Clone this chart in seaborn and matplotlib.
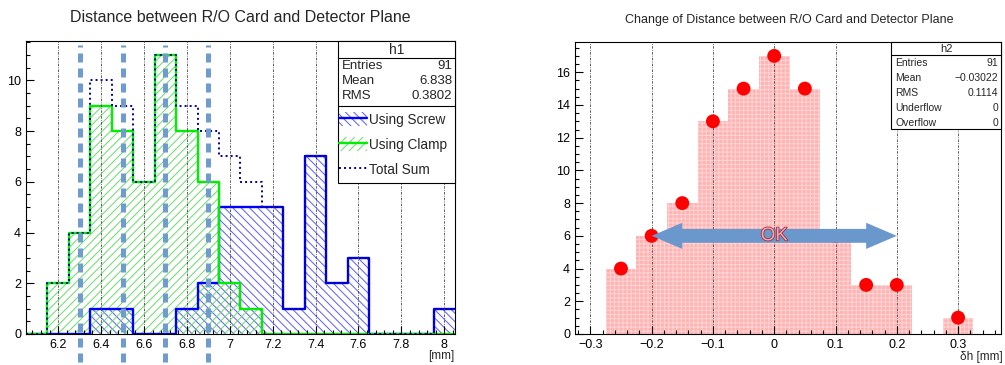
import numpy as np
import pandas as pd
import matplotlib
matplotlib.use("Agg")
import matplotlib.pyplot as plt
import seaborn as sns
import matplotlib.patheffects as pe
from matplotlib.patches import Rectangle, Patch, FancyArrow
from matplotlib.lines import Line2D
from matplotlib.ticker import MultipleLocator, FuncFormatter

# ---- data: h1 (0.1 mm bins, 6.05 .. 8.05) ----
h1_centers = [6.1, 6.2, 6.3, 6.4, 6.5, 6.6, 6.7, 6.8, 6.9, 7.0,
              7.1, 7.2, 7.3, 7.4, 7.5, 7.6, 7.7, 7.8, 7.9, 8.0]
screw_counts = [0, 0, 0, 1, 1, 0, 0, 1, 2, 5, 5, 5, 1, 7, 2, 3, 0, 0, 0, 1]
clamp_counts = [0, 2, 4, 9, 8, 6, 11, 8, 6, 2, 1, 0, 0, 0, 0, 0, 0, 0, 0, 0]
limit_marks = [6.3, 6.5, 6.7, 6.9]
h1_stats = [("Entries", "91"), ("Mean", "6.838"), ("RMS", "0.3802")]

# ---- data: h2 (0.05 mm bins, -0.325 .. 0.375) ----
h2_centers = [-0.30, -0.25, -0.20, -0.15, -0.10, -0.05, 0.0,
              0.05, 0.10, 0.15, 0.20, 0.25, 0.30, 0.35]
h2_counts = [0, 4, 6, 8, 13, 15, 17, 15, 6, 3, 3, 0, 1, 0]
ok_range = [-0.2, 0.2]
ok_level = 6
h2_stats = [("Entries", "91"), ("Mean", "\u22120.03022"), ("RMS", "0.1114"),
            ("Underflow", "0"), ("Overflow", "0")]

W, H = 1005, 365
FONT = ["Liberation Sans", "DejaVu Sans"]


def fx(px):
    return px / W


def fy(py):
    return 1 - py / H


def edges_of(centers, width):
    c = np.asarray(centers)
    return [float(v) for v in np.append(c - width / 2, c[-1] + width / 2)]


def fmt_tick(v, _):
    if abs(v) < 1e-9:
        return "0"
    return f"{v:g}".replace("-", "\u2212")


def root_axes(ax, xmaj, xmin, ymaj, ymin):
    ax.xaxis.set_major_locator(MultipleLocator(xmaj))
    ax.xaxis.set_minor_locator(MultipleLocator(xmin))
    ax.yaxis.set_major_locator(MultipleLocator(ymaj))
    ax.yaxis.set_minor_locator(MultipleLocator(ymin))
    ax.xaxis.set_major_formatter(FuncFormatter(fmt_tick))
    ax.tick_params(which="both", direction="in", top=False, right=False,
                   labelsize=9, width=0.8, colors="black")
    ax.tick_params(which="major", length=6)
    ax.tick_params(which="minor", length=3)
    ax.set_xlabel("")
    ax.set_ylabel("")
    for sp in ax.spines.values():
        sp.set_visible(True)
        sp.set_linewidth(0.8)
        sp.set_color("black")
    ax.set_axisbelow(False)
    ax.grid(axis="x", which="major", color="#444444", linestyle=(0, (3, 1.5, 1, 1.5)),
            linewidth=0.6)
    ax.grid(axis="y", visible=False)


def stats_box(x0, x1, top, head_bottom, rows, row_y, name, size, bottom):
    fig.patches.append(Rectangle((fx(x0), fy(bottom)), fx(x1) - fx(x0), fy(top) - fy(bottom),
                                 transform=fig.transFigure, facecolor="white",
                                 edgecolor="black", linewidth=0.8, zorder=10))
    fig.add_artist(Line2D([fx(x0), fx(x1)], [fy(head_bottom)] * 2, color="black",
                          linewidth=0.8, zorder=11))
    fig.text(fx((x0 + x1) / 2), fy((top + head_bottom) / 2), name, ha="center", va="center",
             fontsize=size + 0.5, zorder=12)
    for (lab, val), y in zip(rows, row_y):
        fig.text(fx(x0 + 4), fy(y), lab, ha="left", va="center", fontsize=size, zorder=12)
        fig.text(fx(x1 - 3), fy(y), val, ha="right", va="center", fontsize=size, zorder=12)


sns.set_style("ticks")
plt.rcParams["font.family"] = FONT
plt.rcParams["hatch.linewidth"] = 0.7

fig = plt.figure(figsize=(W / 100, H / 100), dpi=100)

# ================= left panel =================
ax1 = fig.add_axes([fx(26), fy(334), fx(455) - fx(26), fy(41) - fy(334)])
df1 = pd.DataFrame({"x": h1_centers, "screw": screw_counts, "clamp": clamp_counts})
df1["total"] = df1["screw"] + df1["clamp"]
e1 = edges_of(h1_centers, 0.1)

sns.histplot(data=df1, x="x", weights="screw", bins=e1, element="step", fill=True,
             color="#5a5aff", facecolor="none", hatch="\\\\\\\\", linewidth=0, ax=ax1)
sns.histplot(data=df1, x="x", weights="clamp", bins=e1, element="step", fill=True,
             color="#66dd66", facecolor="none", hatch="////", linewidth=0, ax=ax1)
sns.histplot(data=df1, x="x", weights="screw", bins=e1, element="step", fill=False,
             color="#0000ff", linewidth=1.7, ax=ax1)
sns.histplot(data=df1, x="x", weights="clamp", bins=e1, element="step", fill=False,
             color="#00ee00", linewidth=1.7, ax=ax1)
sns.histplot(data=df1, x="x", weights="total", bins=e1, element="step", fill=False,
             color="#000099", linewidth=1.4, linestyle=(0, (1, 1.6)), ax=ax1)

ax1.set_xlim(6.05, 8.05)
ax1.set_ylim(0, 11.55)
root_axes(ax1, 0.2, 0.04, 2, 0.5)

for xm in limit_marks:
    ax1.axvline(xm, ymin=-0.095, ymax=0.985, color="#6f9bcf", linewidth=3.6,
                dashes=(1.8, 1.2), clip_on=False, zorder=6)

fig.text(fx(240), fy(17), "Distance between R/O Card and Detector Plane",
         ha="center", va="center", fontsize=11.5)
fig.text(fx(454), fy(356), "[mm]", ha="right", va="center", fontsize=8.5)

stats_box(338, 455, 41, 58, h1_stats, [66, 81, 96], "h1", 9.5, 183)
fig.add_artist(Line2D([fx(338), fx(455)], [fy(106)] * 2, color="black", linewidth=0.8, zorder=11))
handles = [
    (Patch(facecolor="none", edgecolor="#5a5aff", hatch="\\\\\\\\", linewidth=0),
     Line2D([], [], color="#0000ff", linewidth=1.7)),
    (Patch(facecolor="none", edgecolor="#66dd66", hatch="////", linewidth=0),
     Line2D([], [], color="#00ee00", linewidth=1.7)),
    Line2D([], [], color="#000099", linewidth=1.4, linestyle=(0, (1, 1.6))),
]
leg = fig.legend(handles, ["Using Screw", "Using Clamp", "Total Sum"],
                 loc="upper left", bbox_to_anchor=(fx(334), fy(107)),
                 bbox_transform=fig.transFigure, frameon=False, fontsize=9.8,
                 handlelength=2.0, handleheight=1.2, handletextpad=0.2,
                 labelspacing=0.75, borderaxespad=0)
leg.set_zorder(13)

# ================= right panel =================
ax2 = fig.add_axes([fx(575), fy(334), fx(1001) - fx(575), fy(42) - fy(334)])
df2 = pd.DataFrame({"x": h2_centers, "n": h2_counts})
e2 = edges_of(h2_centers, 0.05)

sns.histplot(data=df2, x="x", weights="n", bins=e2, element="bars", fill=True,
             color="#ffb3b3", edgecolor="#ffd6d6", hatch="++++", linewidth=0,
             alpha=1, ax=ax2)
dots = df2[df2["n"] > 0]
sns.scatterplot(data=dots, x="x", y="n", color="#ff0000", s=100, edgecolor="none",
                zorder=5, ax=ax2, legend=False)

ax2.set_xlim(-0.325, 0.37)
ax2.set_ylim(0, 17.85)
root_axes(ax2, 0.1, 0.02, 2, 0.5)

mid = (ok_range[0] + ok_range[1]) / 2
for end in ok_range:
    ax2.add_patch(FancyArrow(mid, ok_level, end - mid, 0, width=0.85, head_width=1.6,
                             head_length=0.05, length_includes_head=True,
                             color="#6b98cc", linewidth=0, zorder=7))
ax2.text(mid, ok_level, "OK", ha="center", va="center", fontsize=13.5, color="#f4a7ae",
         zorder=8, path_effects=[pe.withStroke(linewidth=1.1, foreground="#9c2a38")])

fig.text(fx(789), fy(20), "Change of Distance between R/O Card and Detector Plane",
         ha="center", va="center", fontsize=9)
fig.text(fx(1003), fy(357), "\u03b4h [mm]", ha="right", va="center", fontsize=8.5)

stats_box(891, 1001, 42, 55, h2_stats, [63, 78, 93, 108, 123], "h2", 7.5, 129)

fig.savefig("out.png", dpi=100, facecolor="white")
